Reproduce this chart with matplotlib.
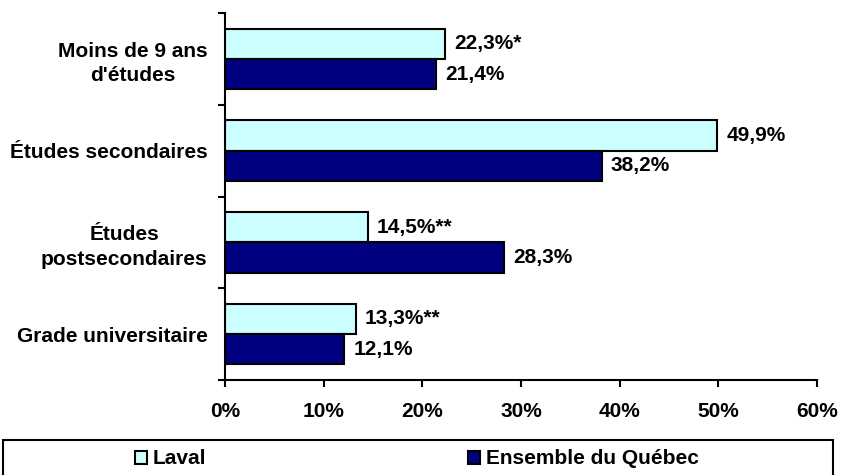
import matplotlib.pyplot as plt
from matplotlib.patches import Patch, Rectangle
from matplotlib.ticker import FixedLocator, PercentFormatter

categories = ["Moins de 9 ans\nd'études", "Études secondaires",
              "Études\npostsecondaires", "Grade universitaire"]
laval = [22.3, 49.9, 14.5, 13.3]
quebec = [21.4, 38.2, 28.3, 12.1]
laval_notes = ["*", "", "**", "**"]
series_names = ["Laval", "Ensemble du Québec"]
xticks = [0, 10, 20, 30, 40, 50, 60]

plt.rcParams['font.family'] = ['Liberation Sans', 'DejaVu Sans']
plt.rcParams['font.weight'] = 'bold'
fs = 15

fig = plt.figure(figsize=(8.41, 4.75), dpi=100)
ax = fig.add_axes([0.2675, 0.2, 0.7040, 0.7726])

h = 0.33
ypos = list(range(len(categories)))
col_l, col_q = '#CCFFFF', '#000080'
ax.barh([y - h / 2 for y in ypos], laval, height=h, color=col_l,
        edgecolor='black', linewidth=1.5)
ax.barh([y + h / 2 for y in ypos], quebec, height=h, color=col_q,
        edgecolor='black', linewidth=1.5)

for y, v, n in zip(ypos, laval, laval_notes):
    ax.text(v + 0.9, y - h / 2, f"{v:.1f}%".replace('.', ',') + n,
            va='center', ha='left', fontsize=fs, fontweight='bold')
for y, v in zip(ypos, quebec):
    ax.text(v + 0.9, y + h / 2, f"{v:.1f}%".replace('.', ','),
            va='center', ha='left', fontsize=fs, fontweight='bold')

ax.set_ylim(len(categories) - 0.5, -0.5)
ax.set_xlim(0, 60)
ax.set_xticks(xticks)
ax.xaxis.set_major_formatter(PercentFormatter(decimals=0))
ax.set_yticks(ypos)
ax.set_yticklabels(categories, multialignment='center', linespacing=1.35)
ax.yaxis.set_minor_locator(FixedLocator([y - 0.5 for y in range(len(categories) + 1)]))
ax.tick_params(axis='y', which='major', length=0, pad=12.5, labelsize=fs)
ax.tick_params(axis='y', which='minor', length=5, width=1.5)
ax.tick_params(axis='x', length=5, width=1.5, pad=11, labelsize=fs)
for lab in ax.get_xticklabels() + ax.get_yticklabels():
    lab.set_fontweight('bold')

ax.spines['top'].set_visible(False)
ax.spines['right'].set_visible(False)
ax.spines['left'].set_linewidth(1.5)
ax.spines['bottom'].set_linewidth(1.5)

# legend box
fig.patches.append(Rectangle((3 / 841, -0.05), 830 / 841, 1 - 440 / 475 + 0.05,
                             transform=fig.transFigure, facecolor='none',
                             edgecolor='black', linewidth=1.5))
handles = [Patch(facecolor=col_l, edgecolor='black', linewidth=1.5),
           Patch(facecolor=col_q, edgecolor='black', linewidth=1.5)]
fig.legend(handles, series_names, loc='center left',
           bbox_to_anchor=(135 / 841, 1 - 459 / 475), ncol=2, frameon=False,
           fontsize=fs, handlelength=0.58, handleheight=0.58,
           handletextpad=0.25, columnspacing=12.6, borderpad=0, borderaxespad=0)

fig.savefig('out.png', dpi=100)
